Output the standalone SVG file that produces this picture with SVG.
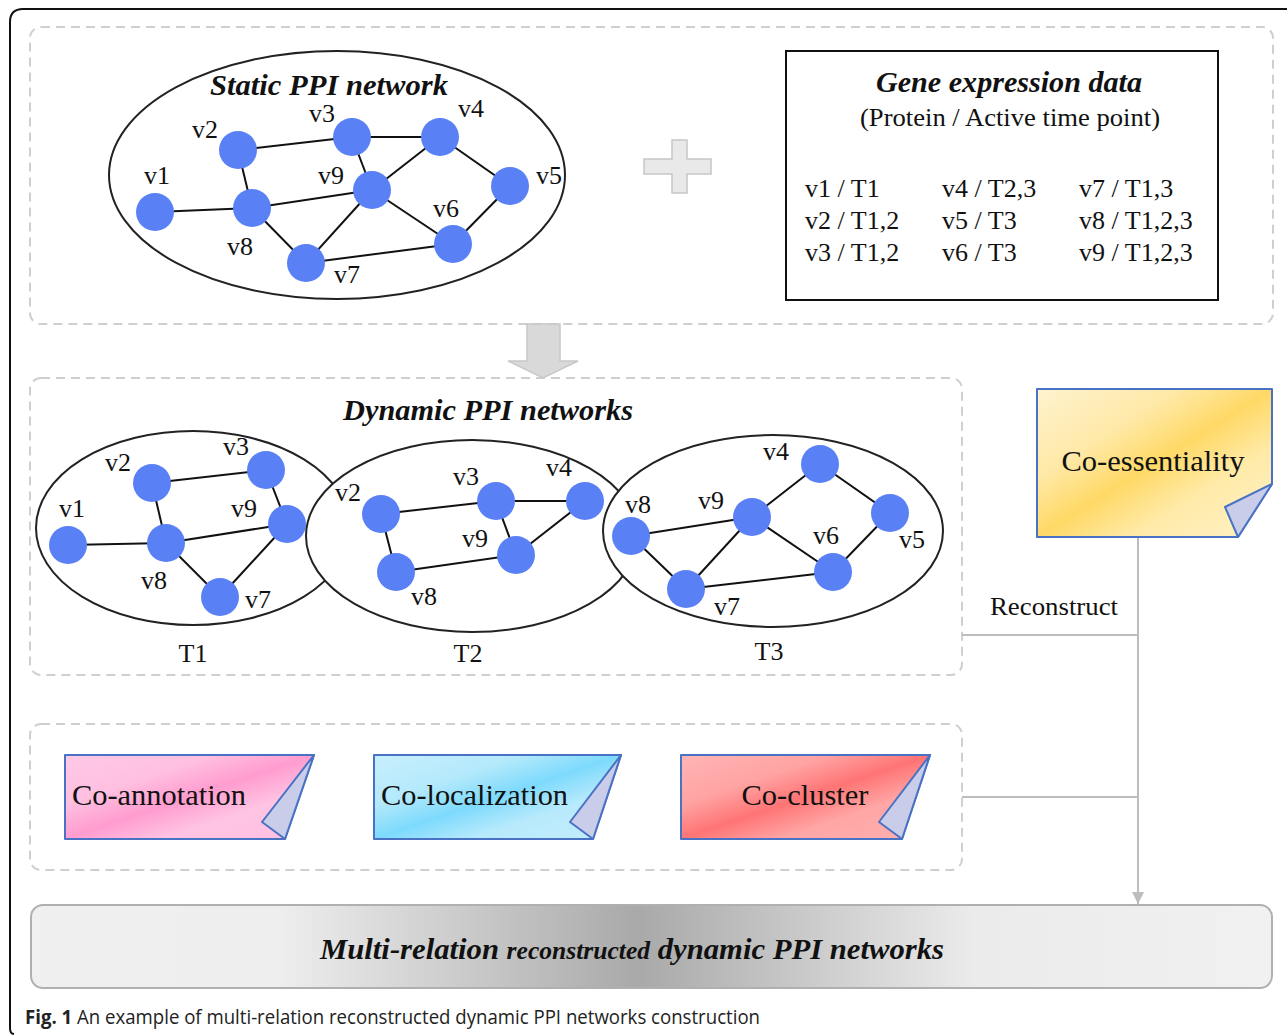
<svg xmlns="http://www.w3.org/2000/svg" width="1287" height="1035" viewBox="0 0 1287 1035">
  <style>
    .serif { font-family: "Liberation Serif", "Times New Roman", serif; fill: #111; }
    .title { font-size: 30px; font-weight: bold; font-style: italic; }
    .lbl { font-size: 26px; }
    .note { font-size: 30px; }
    .node { fill: #5a80f5; }
    .edge { stroke: #111; stroke-width: 2; fill: none; }
    .ring { stroke: #222; stroke-width: 2; fill: #fff; }
    .dash { fill: none; stroke: #cfcfcf; stroke-width: 2; stroke-dasharray: 9 6; }
    .conn { stroke: #bdbdbd; stroke-width: 2; fill: none; }
    .fold { fill: #c9cde9; stroke: #4a72c4; stroke-width: 2; stroke-linejoin: round; }
    .paper { stroke: #4a72c4; stroke-width: 2; stroke-linejoin: round; }
  </style>
  <defs>
    <linearGradient id="gYellow" x1="0" y1="0" x2="1" y2="1">
      <stop offset="0" stop-color="#fff3cf"/>
      <stop offset="0.3" stop-color="#ffe9a8"/>
      <stop offset="0.5" stop-color="#ffd966"/>
      <stop offset="0.7" stop-color="#ffeaa8"/>
      <stop offset="1" stop-color="#fff2c8"/>
    </linearGradient>
    <linearGradient id="gPink" x1="0" y1="0" x2="1" y2="1">
      <stop offset="0" stop-color="#ffc9e6"/>
      <stop offset="0.3" stop-color="#ffbfe0"/>
      <stop offset="0.5" stop-color="#ff9ccf"/>
      <stop offset="0.7" stop-color="#ffc4e3"/>
      <stop offset="1" stop-color="#ffbfe0"/>
    </linearGradient>
    <linearGradient id="gBlue" x1="0" y1="0" x2="1" y2="1">
      <stop offset="0" stop-color="#c8effd"/>
      <stop offset="0.3" stop-color="#b4e9fc"/>
      <stop offset="0.5" stop-color="#7ddafc"/>
      <stop offset="0.7" stop-color="#b8eafc"/>
      <stop offset="1" stop-color="#c3edfd"/>
    </linearGradient>
    <linearGradient id="gRed" x1="0" y1="0" x2="1" y2="1">
      <stop offset="0" stop-color="#ffb5b5"/>
      <stop offset="0.3" stop-color="#ffa3a3"/>
      <stop offset="0.5" stop-color="#ff7474"/>
      <stop offset="0.7" stop-color="#ffa6a6"/>
      <stop offset="1" stop-color="#ffb0b0"/>
    </linearGradient>
    <linearGradient id="gBar" x1="0" y1="0" x2="1" y2="0">
      <stop offset="0" stop-color="#f0f0f0"/>
      <stop offset="0.2" stop-color="#eeeeee"/>
      <stop offset="0.49" stop-color="#a9a9a9"/>
      <stop offset="0.53" stop-color="#b3b3b3"/>
      <stop offset="0.76" stop-color="#ebebeb"/>
      <stop offset="1" stop-color="#f1f1f1"/>
    </linearGradient>
    <marker id="arrowGray" viewBox="0 0 10 10" refX="10" refY="5" markerWidth="6" markerHeight="6" orient="auto" markerUnits="strokeWidth">
      <path d="M0,0 L10,5 L0,10 z" fill="#bdbdbd"/>
    </marker>
  </defs>

  <rect width="1287" height="1035" fill="#fff"/>

  <!-- figure frame -->
  <path d="M14 1034 Q10 1034 10 1028 L10 22 Q10 9 23 9 L1287 9" fill="none" stroke="#111" stroke-width="2"/>

  <!-- dashed panels -->
  <rect class="dash" x="30" y="27" width="1243" height="297" rx="11"/>
  <rect class="dash" x="30" y="378" width="932" height="297" rx="11"/>
  <rect class="dash" x="30" y="724" width="932" height="146" rx="11"/>

  <!-- connectors -->
  <g id="connectors">
    <line class="conn" x1="962" y1="635" x2="1138" y2="635"/>
    <line class="conn" x1="962" y1="797" x2="1138" y2="797"/>
    <line class="conn" x1="1138" y1="537" x2="1138" y2="904" marker-end="url(#arrowGray)"/>
    <text class="serif lbl" x="1054" y="615" text-anchor="middle" textLength="128" lengthAdjust="spacingAndGlyphs">Reconstruct</text>
  </g>

  <!-- static network -->
  <g id="static-ppi">
    <ellipse class="ring" cx="337" cy="175" rx="228" ry="124"/>
    <text class="serif title" x="329" y="95" text-anchor="middle" textLength="238" lengthAdjust="spacingAndGlyphs">Static PPI network</text>
    <g class="edges">
      <line class="edge" x1="238" y1="150" x2="352" y2="137"/>
      <line class="edge" x1="352" y1="137" x2="440" y2="137"/>
      <line class="edge" x1="238" y1="150" x2="252" y2="208"/>
      <line class="edge" x1="155" y1="212" x2="252" y2="208"/>
      <line class="edge" x1="252" y1="208" x2="372" y2="190"/>
      <line class="edge" x1="352" y1="137" x2="372" y2="190"/>
      <line class="edge" x1="372" y1="190" x2="440" y2="137"/>
      <line class="edge" x1="440" y1="137" x2="510" y2="186"/>
      <line class="edge" x1="372" y1="190" x2="453" y2="244"/>
      <line class="edge" x1="372" y1="190" x2="306" y2="263"/>
      <line class="edge" x1="252" y1="208" x2="306" y2="263"/>
      <line class="edge" x1="306" y1="263" x2="453" y2="244"/>
      <line class="edge" x1="453" y1="244" x2="510" y2="186"/>
    </g>
    <circle class="node" cx="155" cy="212" r="19"/>
    <circle class="node" cx="238" cy="150" r="19"/>
    <circle class="node" cx="352" cy="137" r="19"/>
    <circle class="node" cx="440" cy="137" r="19"/>
    <circle class="node" cx="510" cy="186" r="19"/>
    <circle class="node" cx="372" cy="190" r="19"/>
    <circle class="node" cx="252" cy="208" r="19"/>
    <circle class="node" cx="306" cy="263" r="19"/>
    <circle class="node" cx="453" cy="244" r="19"/>
    <g class="serif lbl" text-anchor="middle">
      <text x="157" y="184">v1</text>
      <text x="205" y="138">v2</text>
      <text x="322" y="122">v3</text>
      <text x="471" y="117">v4</text>
      <text x="549" y="184">v5</text>
      <text x="331" y="184">v9</text>
      <text x="446" y="217">v6</text>
      <text x="240" y="255">v8</text>
      <text x="347" y="283">v7</text>
    </g>
  </g>

  <!-- plus sign -->
  <g id="plus">
    <path d="M672 140 H687 V159 H711 V174 H687 V193 H672 V174 H644 V159 H672 Z" fill="#e9e9e9" stroke="#c6c6c6" stroke-width="1.5"/>
  </g>

  <!-- expression table -->
  <g id="gene-expression">
    <rect x="786" y="51" width="432" height="249" fill="#fff" stroke="#111" stroke-width="2"/>
    <text class="serif title" x="1009" y="92" text-anchor="middle" textLength="266" lengthAdjust="spacingAndGlyphs">Gene expression data</text>
    <text class="serif lbl" x="1010" y="126" text-anchor="middle" textLength="300" lengthAdjust="spacingAndGlyphs">(Protein / Active time point)</text>
    <g class="serif lbl">
      <text x="805" y="197">v1 / T1</text>
      <text x="805" y="229">v2 / T1,2</text>
      <text x="805" y="261">v3 / T1,2</text>
      <text x="942" y="197">v4 / T2,3</text>
      <text x="942" y="229">v5 / T3</text>
      <text x="942" y="261">v6 / T3</text>
      <text x="1079" y="197">v7 / T1,3</text>
      <text x="1079" y="229">v8 / T1,2,3</text>
      <text x="1079" y="261">v9 / T1,2,3</text>
    </g>
  </g>

  <!-- block arrow down -->
  <g id="down-arrow">
    <path d="M527 324 H560 V361 H578 L543 378 L508 361 H527 Z" fill="#d9d9d9" stroke="#c8c8c8" stroke-width="1.5"/>
  </g>

  <!-- dynamic networks -->
  <g id="dynamic-ppi">
    <text class="serif title" x="488" y="420" text-anchor="middle" textLength="290" lengthAdjust="spacingAndGlyphs">Dynamic PPI networks</text>

    <g id="net-t1">
      <ellipse class="ring" cx="193" cy="528" rx="157" ry="97"/>
      <line class="edge" x1="68" y1="545" x2="166" y2="543"/>
      <line class="edge" x1="152" y1="483" x2="266" y2="470"/>
      <line class="edge" x1="152" y1="483" x2="166" y2="543"/>
      <line class="edge" x1="266" y1="470" x2="287" y2="524"/>
      <line class="edge" x1="166" y1="543" x2="287" y2="524"/>
      <line class="edge" x1="166" y1="543" x2="220" y2="597"/>
      <line class="edge" x1="220" y1="597" x2="287" y2="524"/>
      <circle class="node" cx="68" cy="545" r="19"/>
      <circle class="node" cx="152" cy="483" r="19"/>
      <circle class="node" cx="266" cy="470" r="19"/>
      <circle class="node" cx="287" cy="524" r="19"/>
      <circle class="node" cx="166" cy="543" r="19"/>
      <circle class="node" cx="220" cy="597" r="19"/>
      <g class="serif lbl" text-anchor="middle">
        <text x="72" y="517">v1</text>
        <text x="118" y="471">v2</text>
        <text x="236" y="455">v3</text>
        <text x="244" y="517">v9</text>
        <text x="154" y="589">v8</text>
        <text x="258" y="608">v7</text>
      </g>
    </g>

    <g id="net-t2">
      <ellipse class="ring" cx="472" cy="536" rx="166" ry="96"/>
      <line class="edge" x1="381" y1="514" x2="496" y2="501"/>
      <line class="edge" x1="496" y1="501" x2="585" y2="501"/>
      <line class="edge" x1="381" y1="514" x2="396" y2="572"/>
      <line class="edge" x1="496" y1="501" x2="516" y2="555"/>
      <line class="edge" x1="585" y1="501" x2="516" y2="555"/>
      <line class="edge" x1="396" y1="572" x2="516" y2="555"/>
      <circle class="node" cx="381" cy="514" r="19"/>
      <circle class="node" cx="496" cy="501" r="19"/>
      <circle class="node" cx="585" cy="501" r="19"/>
      <circle class="node" cx="516" cy="555" r="19"/>
      <circle class="node" cx="396" cy="572" r="19"/>
      <g class="serif lbl" text-anchor="middle">
        <text x="348" y="501">v2</text>
        <text x="466" y="485">v3</text>
        <text x="559" y="476">v4</text>
        <text x="475" y="547">v9</text>
        <text x="424" y="605">v8</text>
      </g>
    </g>

    <g id="net-t3">
      <ellipse class="ring" cx="773" cy="531" rx="170" ry="96"/>
      <line class="edge" x1="631" y1="536" x2="752" y2="517"/>
      <line class="edge" x1="631" y1="536" x2="686" y2="589"/>
      <line class="edge" x1="752" y1="517" x2="686" y2="589"/>
      <line class="edge" x1="752" y1="517" x2="820" y2="464"/>
      <line class="edge" x1="752" y1="517" x2="833" y2="572"/>
      <line class="edge" x1="820" y1="464" x2="890" y2="513"/>
      <line class="edge" x1="890" y1="513" x2="833" y2="572"/>
      <line class="edge" x1="686" y1="589" x2="833" y2="572"/>
      <circle class="node" cx="631" cy="536" r="19"/>
      <circle class="node" cx="752" cy="517" r="19"/>
      <circle class="node" cx="820" cy="464" r="19"/>
      <circle class="node" cx="890" cy="513" r="19"/>
      <circle class="node" cx="833" cy="572" r="19"/>
      <circle class="node" cx="686" cy="589" r="19"/>
      <g class="serif lbl" text-anchor="middle">
        <text x="638" y="513">v8</text>
        <text x="711" y="509">v9</text>
        <text x="776" y="460">v4</text>
        <text x="912" y="548">v5</text>
        <text x="826" y="544">v6</text>
        <text x="727" y="615">v7</text>
      </g>
    </g>

    <g class="serif lbl" text-anchor="middle">
      <text x="193" y="662">T1</text>
      <text x="468" y="662">T2</text>
      <text x="769" y="660">T3</text>
    </g>
  </g>

  <!-- relation notes -->
  <g id="co-essentiality">
    <path class="paper" d="M1037 389 H1272 V484 L1238 537 H1037 Z" fill="url(#gYellow)"/>
    <path class="fold" d="M1272 484 L1225 507 L1238 537 Z"/>
    <text class="serif note" x="1153" y="471" text-anchor="middle" textLength="183" lengthAdjust="spacingAndGlyphs">Co-essentiality</text>
  </g>

  <g id="co-annotation">
    <path class="paper" d="M65 755 H314 L285 839 H65 Z" fill="url(#gPink)"/>
    <path class="fold" d="M314 755 L262 822 L285 839 Z"/>
    <text class="serif note" x="72" y="805" textLength="174" lengthAdjust="spacingAndGlyphs">Co-annotation</text>
  </g>

  <g id="co-localization">
    <path class="paper" d="M374 755 H621 L593 839 H374 Z" fill="url(#gBlue)"/>
    <path class="fold" d="M621 755 L570 822 L593 839 Z"/>
    <text class="serif note" x="381" y="805" textLength="187" lengthAdjust="spacingAndGlyphs">Co-localization</text>
  </g>

  <g id="co-cluster">
    <path class="paper" d="M681 755 H930 L902 839 H681 Z" fill="url(#gRed)"/>
    <path class="fold" d="M930 755 L879 822 L902 839 Z"/>
    <text class="serif note" x="805" y="805" text-anchor="middle" textLength="127" lengthAdjust="spacingAndGlyphs">Co-cluster</text>
  </g>

  <!-- result bar -->
  <g id="result">
    <rect x="31" y="905" width="1241" height="83" rx="12" fill="url(#gBar)" stroke="#b0b0b0" stroke-width="2"/>
    <text class="serif title" x="632" y="959" text-anchor="middle" textLength="624" lengthAdjust="spacingAndGlyphs">Multi-relation <tspan font-size="25">reconstructed</tspan> dynamic PPI networks</text>
  </g>

  <!-- caption -->
  <text x="25" y="1024" font-family="'Open Sans', 'Noto Sans', sans-serif" font-size="20" fill="#222" textLength="735" lengthAdjust="spacingAndGlyphs"><tspan font-weight="bold">Fig. 1</tspan> An example of multi-relation reconstructed dynamic PPI networks construction</text>
</svg>
